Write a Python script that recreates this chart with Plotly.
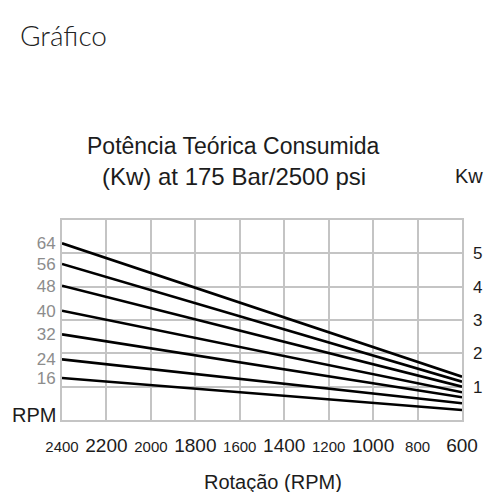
import plotly.graph_objects as go

# Rotation axis (reversed: 2400 on the left, 600 on the right)
rpm_ticks = [2400, 2200, 2000, 1800, 1600, 1400, 1200, 1000, 800, 600]
rpm_ends = [2400, 600]

# One straight line per displacement, power in kW at 2400 and 600 rpm
series_labels = ["64", "56", "48", "40", "32", "24", "16"]
kw_at_2400 = [5.30, 4.68, 4.03, 3.28, 2.57, 1.82, 1.26]
kw_at_600 = [1.30, 1.15, 1.00, 0.83, 0.68, 0.50, 0.30]

# Right-hand kW scale
kw_ticks = [1, 2, 3, 4, 5]
kw_range = [0, 6]

W, H = 485, 492
L, R, T, B = 62, 23, 220, 72
PW, PH = W - L - R, H - T - B

GRID = "#c4c4c4"
TXT = "#1c1c1c"
SANS = "Liberation Sans, Arial, sans-serif"


def px(x):
    return (x - L) / PW


def py(y):
    return (H - B - y) / PH


fig = go.Figure()

for lab, a, b in zip(series_labels, kw_at_2400, kw_at_600):
    fig.add_trace(go.Scatter(
        x=rpm_ends, y=[a, b], mode="lines", name=lab,
        line=dict(color="black", width=2.6),
        yaxis="y", hoverinfo="skip", showlegend=False,
    ))

# invisible trace so the right-hand axis is drawn
fig.add_trace(go.Scatter(x=[rpm_ends[0]], y=[kw_range[0]], mode="markers",
                         marker=dict(opacity=0), yaxis="y2",
                         hoverinfo="skip", showlegend=False))

big, small = 19, 15
tick_text = []
for i, v in enumerate(rpm_ticks):
    size = small if i % 2 == 0 else big
    tick_text.append(f'<span style="font-size:{size}px">{v}</span>')

fig.update_layout(
    width=W, height=H,
    margin=dict(l=L, r=R, t=T, b=B, autoexpand=False),
    paper_bgcolor="white", plot_bgcolor="white",
    font=dict(family=SANS, color=TXT),
    xaxis=dict(
        range=[rpm_ticks[0], rpm_ticks[-1]],
        tickvals=rpm_ticks, ticktext=tick_text,
        tickfont=dict(size=big, color=TXT),
        ticks="", ticklabelstandoff=7,
        showgrid=True, gridcolor=GRID, gridwidth=2,
        showline=True, mirror=True, linecolor=GRID, linewidth=2,
        zeroline=False,
    ),
    yaxis=dict(
        range=kw_range, tickvals=kw_at_2400, ticktext=series_labels,
        tickfont=dict(size=17, color="#8c8c8c"),
        ticks="", ticklabelstandoff=1,
        showgrid=False, zeroline=False,
        showline=True, mirror=True, linecolor=GRID, linewidth=2,
    ),
    yaxis2=dict(
        range=kw_range, overlaying="y", side="right",
        tickvals=kw_ticks, ticktext=[str(v) for v in kw_ticks],
        tickfont=dict(size=17, color=TXT),
        ticks="", ticklabelstandoff=10,
        showgrid=True, gridcolor=GRID, gridwidth=2, zeroline=False,
    ),
)

ann = [
    dict(text="Gráfico", x=px(18), y=py(35), xanchor="left", yanchor="middle",
         font=dict(family="Lato, sans-serif", size=28, color="#222222", weight=300)),
    dict(text="Potência Teórica Consumida", x=px(233), y=py(146),
         xanchor="center", yanchor="middle", font=dict(size=23)),
    dict(text="(Kw) at 175 Bar/2500 psi", x=px(234), y=py(176),
         xanchor="center", yanchor="middle", font=dict(size=24)),
    dict(text="Kw", x=px(469), y=py(176), xanchor="center", yanchor="middle",
         font=dict(size=20)),
    dict(text="RPM", x=px(10), y=py(415), xanchor="left", yanchor="middle",
         font=dict(size=20)),
    dict(text="Rotação (RPM)", x=px(273), y=py(482), xanchor="center",
         yanchor="middle", font=dict(size=20)),
]
for a in ann:
    fig.add_annotation(xref="paper", yref="paper", showarrow=False, **a)

fig.write_html("out.html")
